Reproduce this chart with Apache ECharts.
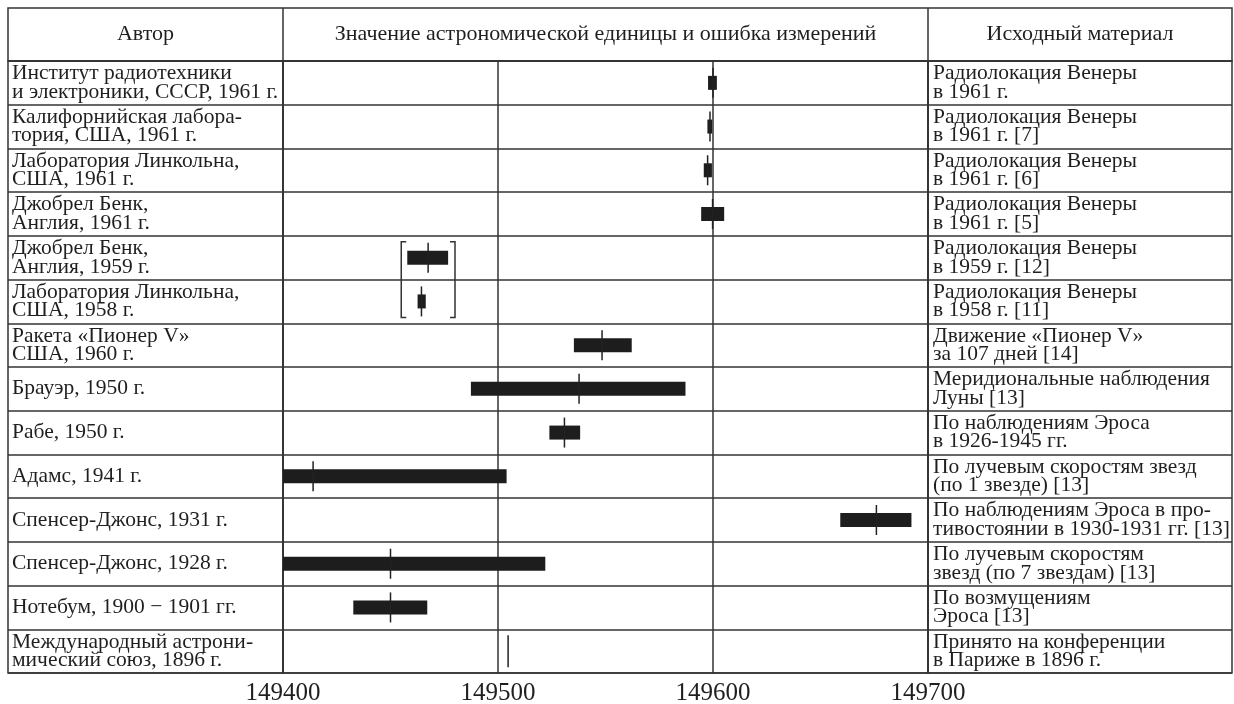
<!DOCTYPE html>
<html>
<head>
<meta charset="utf-8">
<script src="https://cdn.jsdelivr.net/npm/echarts@6/dist/echarts.min.js"></script>
<style>
html,body{margin:0;padding:0;background:#fff;}
#chart{width:1234px;height:704px;}
</style>
</head>
<body>
<div id="chart"></div>
<script>
// ---- data (thousand km) ----
const authors = [
  'Институт радиотехники\nи электроники, СССР, 1961 г.',
  'Калифорнийская лабора-\nтория, США, 1961 г.',
  'Лаборатория Линкольна,\nСША, 1961 г.',
  'Джобрел Бенк,\nАнглия, 1961 г.',
  'Джобрел Бенк,\nАнглия, 1959 г.',
  'Лаборатория Линкольна,\nСША, 1958 г.',
  'Ракета «Пионер V»\nСША, 1960 г.',
  'Брауэр, 1950 г.',
  'Рабе, 1950 г.',
  'Адамс, 1941 г.',
  'Спенсер-Джонс, 1931 г.',
  'Спенсер-Джонс, 1928 г.',
  'Нотебум, 1900 − 1901 гг.',
  'Международный астрони-\nмический союз, 1896 г.'
];
const sources = [
  'Радиолокация Венеры\nв 1961 г.',
  'Радиолокация Венеры\nв 1961 г. [7]',
  'Радиолокация Венеры\nв 1961 г. [6]',
  'Радиолокация Венеры\nв 1961 г. [5]',
  'Радиолокация Венеры\nв 1959 г. [12]',
  'Радиолокация Венеры\nв 1958 г. [11]',
  'Движение «Пионер V»\nза 107 дней [14]',
  'Меридиональные наблюдения\nЛуны [13]',
  'По наблюдениям Эроса\nв 1926-1945 гг.',
  'По лучевым скоростям звезд\n(по 1 звезде) [13]',
  'По наблюдениям Эроса в про-\nтивостоянии в 1930-1931 гг. [13]',
  'По лучевым скоростям\nзвезд (по 7 звездам) [13]',
  'По возмущениям\nЭроса [13]',
  'Принято на конференции\nв Париже в 1896 г.'
];
const centers = [149600, 149598.6, 149597.5, 149599.8, 149467.5, 149464.4, 149548.4, 149537.7, 149530.9, 149414, 149676, 149450, 149450, 149504.7];
const lows    = [149597.7, 149597.4, 149595.7, 149594.5, 149457.8, 149462.6, 149535.3, 149487.4, 149523.9, 149400, 149659.2, 149400, 149432.7, null];
const highs   = [149601.8, 149599.6, 149599.5, 149605.2, 149476.8, 149466.4, 149562.2, 149587.2, 149538.2, 149504, 149692.3, 149522, 149467.1, null];
// bracket grouping the 1958/1959 radar results: [low, high, firstRow, lastRow]
const brackets = [[149455, 149480, 4, 5]];
const xTicks = [149400, 149500, 149600, 149700];
const headers = ['Автор', 'Значение астрономической единицы и ошибка измерений', 'Исходный материал'];

// ---- layout ----
const FONT = '"Liberation Serif", "DejaVu Serif", serif';
const INK = '#1f1f1f';
const LINE = '#333';
const T = 8, HB = 61, B = 673, L = 8, C1 = 283, C2 = 928, R = 1232;

const chart = echarts.init(document.getElementById('chart'));

const marks = centers.map((c, i) => [i, c, lows[i] == null ? c : lows[i], highs[i] == null ? c : highs[i]]);

const gridBase = {top: HB, height: B - HB, show: true, borderColor: LINE, borderWidth: 1.5,
  backgroundColor: 'transparent', containLabel: false, outerBoundsMode: 'none'};
const catAxis = (data, gi, label) => ({
  type: 'category', gridIndex: gi, data: data, inverse: true, boundaryGap: true,
  axisLine: {show: false}, axisTick: {show: false},
  splitLine: {show: true, interval: 0, lineStyle: {color: LINE, width: 1.5}},
  axisLabel: label ? Object.assign({show: true, interval: 0, inside: true, align: 'left',
    fontFamily: FONT, fontSize: 21.5, lineHeight: 18.5, color: INK}, label) : {show: false}
});

chart.setOption({
  animation: false,
  backgroundColor: '#fff',
  grid: [
    Object.assign({left: C1, width: C2 - C1}, gridBase),
    Object.assign({left: L, width: C1 - L}, gridBase),
    Object.assign({left: C2, width: R - C2}, gridBase)
  ],
  xAxis: [
    {type: 'value', gridIndex: 0, min: xTicks[0], max: xTicks[xTicks.length - 1], interval: 100,
     axisLine: {show: false}, axisTick: {show: false},
     splitLine: {show: true, lineStyle: {color: LINE, width: 1.5}},
     axisLabel: {show: true, margin: 8, fontFamily: FONT, fontSize: 25, color: INK,
       showMinLabel: true, showMaxLabel: true, formatter: v => String(v)}},
    {type: 'value', gridIndex: 1, min: 0, max: 1, show: false},
    {type: 'value', gridIndex: 2, min: 0, max: 1, show: false}
  ],
  yAxis: [
    catAxis(authors, 0, null),
    catAxis(authors, 1, {margin: 4}),
    catAxis(sources, 2, {margin: 5})
  ],
  graphic: [
    {type: 'rect', shape: {x: L, y: T, width: R - L, height: HB - T}, style: {fill: 'none', stroke: LINE, lineWidth: 1.5}},
    {type: 'line', shape: {x1: C1, y1: T, x2: C1, y2: HB}, style: {stroke: LINE, lineWidth: 1.5}},
    {type: 'line', shape: {x1: C2, y1: T, x2: C2, y2: HB}, style: {stroke: LINE, lineWidth: 1.5}},
    {type: 'text', style: {text: headers[0], x: (L + C1) / 2, y: (T + HB) / 2, align: 'center', verticalAlign: 'middle', font: '22px ' + FONT, fill: INK}},
    {type: 'text', style: {text: headers[1], x: (C1 + C2) / 2, y: (T + HB) / 2, align: 'center', verticalAlign: 'middle', font: '22px ' + FONT, fill: INK}},
    {type: 'text', style: {text: headers[2], x: (C2 + R) / 2, y: (T + HB) / 2, align: 'center', verticalAlign: 'middle', font: '22px ' + FONT, fill: INK}}
  ],
  series: [
    {
      type: 'custom', xAxisIndex: 0, yAxisIndex: 0, clip: true, z: 5,
      data: marks,
      renderItem: function (params, api) {
        const yi = api.value(0), c = api.value(1), lo = api.value(2), hi = api.value(3);
        const pc = api.coord([c, yi]);
        const children = [];
        const half = hi > lo ? 15 : 16;
        if (hi > lo) {
          const pl = api.coord([lo, yi]), ph = api.coord([hi, yi]);
          children.push({type: 'rect', shape: {x: pl[0], y: pc[1] - 7, width: Math.max(ph[0] - pl[0], 2), height: 14},
            style: {fill: '#1d1d1d'}});
        }
        children.push({type: 'line', shape: {x1: pc[0], y1: pc[1] - half, x2: pc[0], y2: pc[1] + half},
          style: {stroke: '#222', lineWidth: 1.5}});
        return {type: 'group', children: children};
      }
    },
    {
      type: 'custom', xAxisIndex: 0, yAxisIndex: 0, clip: true, z: 5,
      data: brackets,
      renderItem: function (params, api) {
        const lo = api.value(0), hi = api.value(1), r0 = api.value(2), r1 = api.value(3);
        const a = api.coord([lo, r0]), b = api.coord([hi, r1]);
        const yt = a[1] - 16, yb = b[1] + 16, xl = a[0], xr = b[0], t = 5;
        const st = {stroke: '#333', lineWidth: 1.5, fill: 'none'};
        return {type: 'group', children: [
          {type: 'polyline', shape: {points: [[xl + t, yt], [xl, yt], [xl, yb], [xl + t, yb]]}, style: st},
          {type: 'polyline', shape: {points: [[xr - t, yt], [xr, yt], [xr, yb], [xr - t, yb]]}, style: st}
        ]};
      }
    }
  ]
});
</script>
</body>
</html>
